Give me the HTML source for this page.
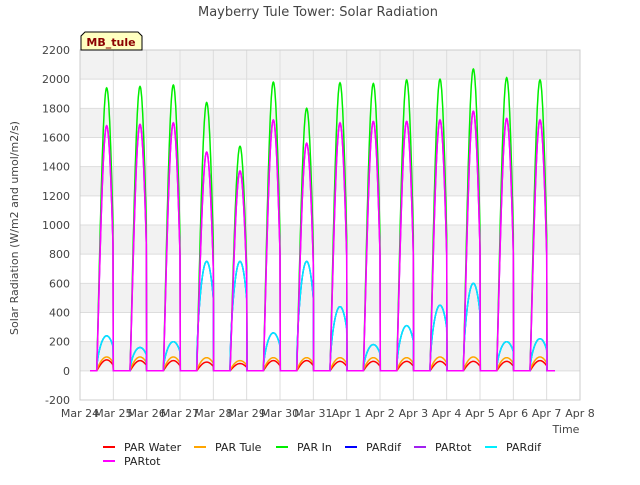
<!DOCTYPE html>
<html><head><meta charset="utf-8"><style>
body{margin:0;background:#fff;font-family:"Liberation Sans","DejaVu Sans",sans-serif}
svg text{font-family:"DejaVu Sans","Liberation Sans",sans-serif}
</style></head><body>
<svg id="c" width="640" height="480" viewBox="0 0 640 480">
<rect width="640" height="480" fill="#fff"/>
<text x="318" y="16" text-anchor="middle" font-size="13" fill="#444">Mayberry Tule Tower: Solar Radiation</text>
<g id="plot"></g>
<text x="18" y="228" transform="rotate(-90 18 228)" text-anchor="middle" font-size="11" fill="#444">Solar Radiation (W/m2 and umol/m2/s)</text>
<text x="566" y="433" text-anchor="middle" font-size="11" fill="#444">Time</text>
<g>
<path d="M81,50 L81,36 L85,32 L138,32 L142,36 L142,50 Z" fill="#ffffc0" stroke="#000"/>
<text x="111" y="46" text-anchor="middle" font-size="11" font-weight="bold" fill="#8b0000">MB_tule</text>
</g>
<g id="legend"></g>
</svg>
<script>
const dayLabels=["Mar 24","Mar 25","Mar 26","Mar 27","Mar 28","Mar 29","Mar 30","Mar 31","Apr 1","Apr 2","Apr 3","Apr 4","Apr 5","Apr 6","Apr 7","Apr 8"];
const yTicks=[-200,0,200,400,600,800,1000,1200,1400,1600,1800,2000,2200];
const parInPeaks=[1940,1950,1960,1840,1540,1980,1800,1975,1970,1995,2000,2070,2010,1995];
const parTotPeaks=[1680,1690,1700,1500,1370,1720,1560,1700,1710,1710,1720,1780,1730,1720];
const parDifPeaks=[240,160,200,750,750,260,750,440,180,310,450,600,200,220];
const parWaterPeaks=[75,70,70,60,50,70,70,65,65,65,65,65,65,70];
const parTulePeaks=[95,95,95,90,70,90,90,90,90,90,95,95,90,95];
const ns="http://www.w3.org/2000/svg";
const X0=80,X1=580,Y0=400,Y1=50;
const xs=d=>X0+(d/15)*(X1-X0);
const ys=v=>Y0-(v+200)/2400*(Y0-Y1);
const plot=document.getElementById('plot');
function el(t,a,p){const e=document.createElementNS(ns,t);for(const k in a)e.setAttribute(k,a[k]);(p||plot).appendChild(e);return e;}
// bands
for(let i=0;i<yTicks.length-1;i++){
 if(i%2==1){const r=el('rect',{x:X0,y:ys(yTicks[i+1]),width:X1-X0,height:ys(yTicks[i])-ys(yTicks[i+1]),fill:'#f2f2f2'});
 
 }
}
yTicks.forEach(v=>{
 const l=el('line',{x1:X0,x2:X1,y1:ys(v),y2:ys(v),stroke:'#ddd','stroke-width':1});
 
 
 const t=el('text',{x:X0-10,y:ys(v)+4,'text-anchor':'end','font-size':11,fill:'#444'});t.textContent=v;
 
 
});
dayLabels.forEach((s,i)=>{
 const l=el('line',{x1:xs(i),x2:xs(i),y1:Y0,y2:Y1,stroke:'#ddd','stroke-width':1});
 
 
 const t=el('text',{x:xs(i),y:Y0+17,'text-anchor':'middle','font-size':11,fill:'#444'});t.textContent=s;
 
 
});
el('rect',{x:X0,y:Y1,width:X1-X0,height:Y0-Y1,fill:'none',stroke:'#ccc'});
function series(peaks,pow,color,name,w){
 let pts=[];const start=0.3,end=14.25,step=0.01;
 for(let d=start;d<=end+1e-9;d+=step){
  let v=0;const k=Math.floor(d);const c=k+0.8,o=d-c;
  if(k<peaks.length&&Math.abs(o)<0.3){v=peaks[k]*Math.pow(Math.cos(o/0.3*Math.PI/2),pow);}
  pts.push(xs(d).toFixed(1)+','+ys(v).toFixed(1));
 }
 const p=el('polyline',{points:pts.join(' '),fill:'none',stroke:color,'stroke-width':w||1.5});
 
 
}
series(parWaterPeaks,1,'#ff0000','par-water-line');
series(parTulePeaks,0.8,'#ffa500','par-tule-line');
series(parInPeaks,1.1,'#00ee00','par-in-line');
series(parDifPeaks,0.6,'#0000ff','pardif-line');
series(parTotPeaks,1.1,'#a020f0','partot-line');
series(parDifPeaks,0.6,'#00eeff','pardif-cyan-line');
series(parTotPeaks,1.1,'#ff00ff','partot-magenta-line');
const legItems=[["PAR Water","#ff0000",103,447],["PAR Tule","#ffa500",194,447],["PAR In","#00ee00",276,447],["PARdif","#0000ff",345,447],["PARtot","#a020f0",414,447],["PARdif","#00eeff",485,447],["PARtot","#ff00ff",103,461]];
const leg=document.getElementById('legend');
legItems.forEach(([n,c,x,y])=>{
 const g=el('g',{},leg);
 
 
 el('line',{x1:x,x2:x+12,y1:y,y2:y,stroke:c,'stroke-width':2},g);
 const t=el('text',{x:x+21,y:y+4,'font-size':11,fill:'#222'},g);t.textContent=n;
});
</script>
</body></html>
